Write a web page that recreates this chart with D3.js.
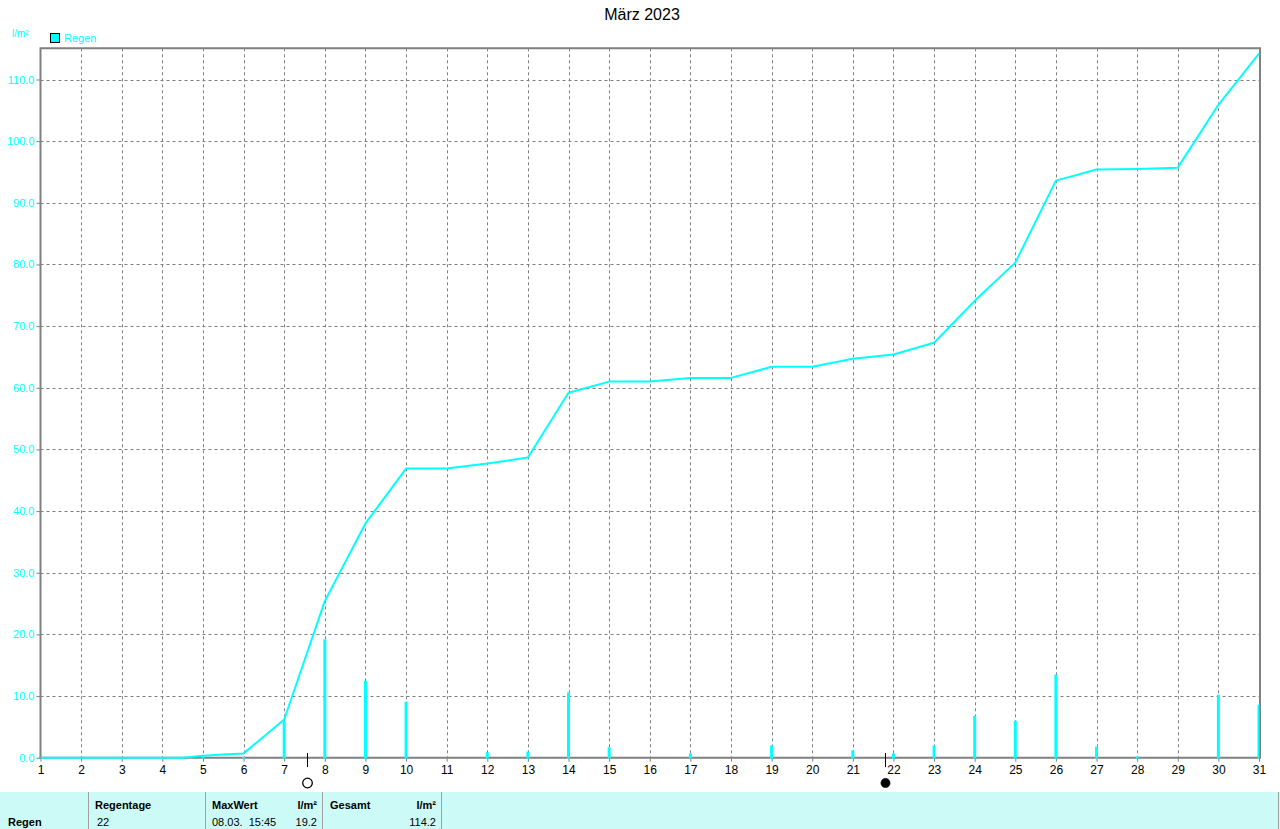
<!DOCTYPE html>
<html><head><meta charset="utf-8">
<script src="https://cdn.jsdelivr.net/npm/d3@7"></script>
<style>
html,body{margin:0;padding:0;background:#fff;}
svg{display:block;}
text{font-family:"Liberation Sans",Arial,sans-serif;}
</style></head>
<body>
<svg id="c" width="1280" height="829"></svg>
<script>
// ---- data ----
const title = "März 2023";
const unitLabel = "l/m²";
const seriesName = "Regen";
const dayTicks = d3.range(1, 32);
const yTicks = [0,10,20,30,40,50,60,70,80,90,100,110];
// daily rain bars
const rainDays   = [5,   6,   7,   8,    9,    10,  12,  13,  14,   15,  17,  19,  21,  22,  23,  24,  25,  26,   27,  28,  30,   31];
const rainValues = [0.1, 0.1, 5.9, 19.2, 12.5, 9.1, 0.9, 1.0, 10.6, 1.7, 0.7, 2.0, 1.2, 0.7, 2.0, 6.8, 6.0, 13.5, 1.8, 0.2, 10.2, 8.6];
// cumulative rain line
const cumDays   = [1, 4.5, 5,   5.5, 6,   7,   8,    9,    10,   11,   12,   13,   14,   15,   16,   17,   18,   19,   20,   21,   22,   23,   24,   25,   26,   27,   28,   29,   30,    31];
const cumValues = [0, 0,   0.3, 0.5, 0.7, 6.2, 25.4, 38.0, 46.9, 46.9, 47.7, 48.7, 59.2, 61.0, 61.0, 61.6, 61.6, 63.4, 63.4, 64.7, 65.4, 67.3, 74.1, 80.3, 93.6, 95.4, 95.5, 95.7, 105.9, 114.2];
// moon phases (fractional day)
const moonDays  = [7.56, 21.78];
const moonTypes = ["full", "new"];
// summary table
const tableHeaders = ["Regentage", "MaxWert", "l/m²", "Gesamt", "l/m²"];
const regentage = "22";
const maxWertTime = "08.03.  15:45";
const maxWert = "19.2";
const gesamt = "114.2";

// ---- drawing ----
const svg = d3.select("#c");
const CY = "#00ffff";
const L = 40.5, R = 1259, T = 48.3, B = 757.7;
const x = d3.scaleLinear().domain([1, 31]).range([L, R]);
const y = d3.scaleLinear().domain([0, 110]).range([B, 79.5]);

svg.append("text").attr("x", 642).attr("y", 20).attr("text-anchor", "middle")
  .attr("font-size", 16).attr("fill", "#000").text(title);
svg.append("text").attr("x", 12).attr("y", 37).attr("font-size", 10).attr("fill", CY).text(unitLabel);
svg.append("rect").attr("x", 50.5).attr("y", 33.5).attr("width", 9).attr("height", 9)
  .attr("fill", CY).attr("stroke", "#000").attr("stroke-width", 1);
svg.append("text").attr("x", 64).attr("y", 42).attr("font-size", 11).attr("fill", CY).text(seriesName);

// grid
const g = svg.append("g");
g.selectAll(".vg").data(dayTicks.filter(d => d > 1 && d < 31)).enter().append("line")
  .attr("x1", d => Math.round(x(d)) + 0.5).attr("x2", d => Math.round(x(d)) + 0.5)
  .attr("y1", T).attr("y2", B)
  .attr("stroke", "#808080").attr("stroke-width", 1).attr("stroke-dasharray", "3,3");
g.selectAll(".hg").data(yTicks.filter(d => d > 0)).enter().append("line")
  .attr("x1", L).attr("x2", R)
  .attr("y1", d => Math.round(y(d)) + 0.5).attr("y2", d => Math.round(y(d)) + 0.5)
  .attr("stroke", "#808080").attr("stroke-width", 1).attr("stroke-dasharray", "3,3");

// y axis labels
const yAxis = d3.axisLeft(y).tickValues(yTicks).tickFormat(d3.format(".1f")).tickSize(4).tickPadding(2);
const ya = svg.append("g").attr("transform", `translate(${L},0)`).call(yAxis);
ya.select(".domain").remove();
ya.selectAll(".tick line").attr("stroke", "#808080");
ya.selectAll(".tick text").attr("fill", CY).attr("font-size", 11).attr("font-family", "Liberation Sans, Arial, sans-serif");

// x axis labels
const xAxis = d3.axisBottom(x).tickValues(dayTicks).tickFormat(d3.format("d")).tickSize(4).tickPadding(4);
const xa = svg.append("g").attr("transform", `translate(0,${B})`).call(xAxis);
xa.select(".domain").remove();
xa.selectAll(".tick line").attr("stroke", "#808080");
xa.selectAll(".tick text").attr("fill", "#000").attr("font-size", 12).attr("font-family", "Liberation Sans, Arial, sans-serif");

// frame
svg.append("path")
  .attr("d", `M${L},${B}V${T}H${R + 1}V${B}`)
  .attr("fill", "none").attr("stroke", "#808080").attr("stroke-width", 2);
svg.append("line").attr("x1", L - 1).attr("x2", R + 2).attr("y1", B).attr("y2", B)
  .attr("stroke", "#808080").attr("stroke-width", 2);

// bars
svg.append("clipPath").attr("id", "pc").append("rect").attr("x", L).attr("y", T).attr("width", R - L + 0.5).attr("height", B - T + 1);
const bars = rainDays.map((d, i) => ({ d, v: rainValues[i] }));
svg.append("g").attr("clip-path", "url(#pc)").selectAll("rect").data(bars).enter().append("rect")
  .attr("x", d => x(d.d) - 1.5).attr("width", 3)
  .attr("y", d => y(d.v)).attr("height", d => B + 1 - y(d.v))
  .attr("fill", CY);

// cumulative line
const pts = cumDays.map((d, i) => [d, cumValues[i]]);
svg.append("path").datum(pts)
  .attr("d", d3.line().x(d => x(d[0])).y(d => y(d[1])))
  .attr("fill", "none").attr("stroke", CY).attr("stroke-width", 2).attr("stroke-linejoin", "round");

// moon phases
moonDays.forEach((md, i) => {
  const mx = Math.round(x(md)) + 0.5;
  svg.append("line").attr("x1", mx).attr("x2", mx).attr("y1", 753).attr("y2", 767)
    .attr("stroke", "#000").attr("stroke-width", 1);
  if (moonTypes[i] === "full") {
    svg.append("circle").attr("cx", mx).attr("cy", 783).attr("r", 4.8)
      .attr("fill", "#fff").attr("stroke", "#000").attr("stroke-width", 1.3);
  } else {
    svg.append("circle").attr("cx", mx).attr("cy", 783).attr("r", 4.5)
      .attr("fill", "#000").attr("stroke", "#000").attr("stroke-width", 0.8);
  }
});

// summary table
const tb = svg.append("g");
tb.append("rect").attr("x", 0).attr("y", 792).attr("width", 1280).attr("height", 37).attr("fill", "#ccfaf7");
[88, 205, 322, 441, 1278].forEach(sx => {
  tb.append("line").attr("x1", sx + 0.5).attr("x2", sx + 0.5).attr("y1", 792).attr("y2", 829)
    .attr("stroke", "#a0a0a0").attr("stroke-width", 1);
});
const bold = (tx, ty, s, anchor) => tb.append("text").attr("x", tx).attr("y", ty).attr("font-size", 11)
  .attr("font-weight", "bold").attr("fill", "#000").attr("text-anchor", anchor || "start").text(s);
const norm = (tx, ty, s, anchor) => tb.append("text").attr("x", tx).attr("y", ty).attr("font-size", 11)
  .attr("fill", "#000").attr("text-anchor", anchor || "start").text(s);
bold(8, 826, seriesName);
bold(95, 809, tableHeaders[0]);
bold(212, 809, tableHeaders[1]);
bold(317, 809, tableHeaders[2], "end");
bold(330, 809, tableHeaders[3]);
bold(436, 809, tableHeaders[4], "end");
norm(97, 826, regentage);
norm(212, 826, maxWertTime.replace(/ /g, "\u00a0"));
norm(317, 826, maxWert, "end");
norm(436, 826, gesamt, "end");
</script>
</body></html>
